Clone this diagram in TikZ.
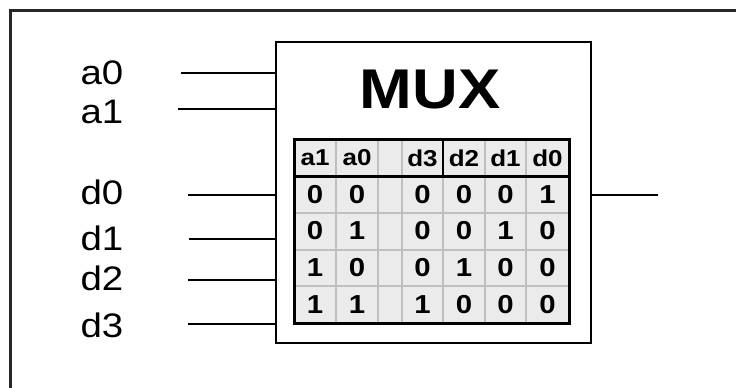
\documentclass[tikz,border=0pt]{standalone}
\usepackage{fontspec}
\setmainfont[FakeStretch=1.13]{Liberation Sans}
\begin{document}
\begin{tikzpicture}[x=1pt,y=-1pt,
  wire/.style={line width=2pt,black},
  frame/.style={line width=3pt,black!85},
  lbl/.style={font=\fontsize{34}{34}\selectfont,inner sep=0pt},
  title/.style={font=\bfseries\fontsize{56}{56}\selectfont,inner sep=0pt},
  hdr/.style={font=\bfseries\fontsize{23}{23}\selectfont,inner sep=0pt},
  bit/.style={font=\bfseries\fontsize{26}{26}\selectfont,inner sep=0pt},
  grid/.style={line width=2pt,black!25},
  rule/.style={line width=3pt,black},
]
\useasboundingbox (0,0) rectangle (736,388);

% outer frame (open to the right and bottom)
\draw[frame] (10,392) -- (10,10) -- (740,10);

% multiplexer block
\node[draw,line width=2pt,minimum width=315pt,minimum height=301pt,
      inner sep=0pt,anchor=north west] (mux) at (275,41) {};
\node[title] (name) at (430,90) {MUX};

% truth table: background, grid, rules
\fill[black!8] (294,139) rectangle (569,323);
\foreach \gx in {336,378,402,443,485,526}
  \draw[grid] (\gx,139) -- (\gx,323);
\foreach \gy in {213,249.5,286}
  \draw[grid] (294,\gy) -- (569,\gy);
\draw[line width=1.5pt] (443,139) -- (443,176);
\draw[rule] (294,176) -- (569,176);
\draw[rule] (294,139) rectangle (569,323);

% header row
\foreach \t/\cx [count=\i] in {a1/315,a0/357,d3/422.5,d2/464,d1/505.5,d0/547.5}
  \node[hdr] (h\i) at (\cx,158) {\t};

% table rows
\foreach \ry/\bits [count=\r] in {194.5/{0,0,0,0,0,1},231/{0,1,0,0,1,0},
                                   268/{1,0,0,1,0,0},304.5/{1,1,1,0,0,0}}
  \foreach \b [count=\c] in \bits {
    \pgfmathsetmacro\cx{{315,357,422.5,464,505.5,547.5}[\c-1]}
    \node[bit] (r\r c\c) at (\cx,\ry) {\b};
  }

% input labels
\node[lbl] (la0) at (102,73) {a0};
\node[lbl] (la1) at (102,112) {a1};
\node[lbl] (ld0) at (102,192) {d0};
\node[lbl] (ld1) at (102,238) {d1};
\node[lbl] (ld2) at (102,278) {d2};
\node[lbl] (ld3) at (102,325) {d3};

% input wires
\coordinate (sa0) at (181,73);
\coordinate (sa1) at (178,109);
\coordinate (sd0) at (188,195);
\coordinate (sd1) at (189,239);
\coordinate (sd2) at (188,280);
\coordinate (sd3) at (188,324);
\foreach \w in {sa0,sa1,sd0,sd1,sd2,sd3}
  \draw[wire] (\w) -- (\w -| mux.west);

% output wire
\coordinate (out) at (658,195);
\draw[wire] (mux.east |- out) -- (out);
\end{tikzpicture}
\end{document}
